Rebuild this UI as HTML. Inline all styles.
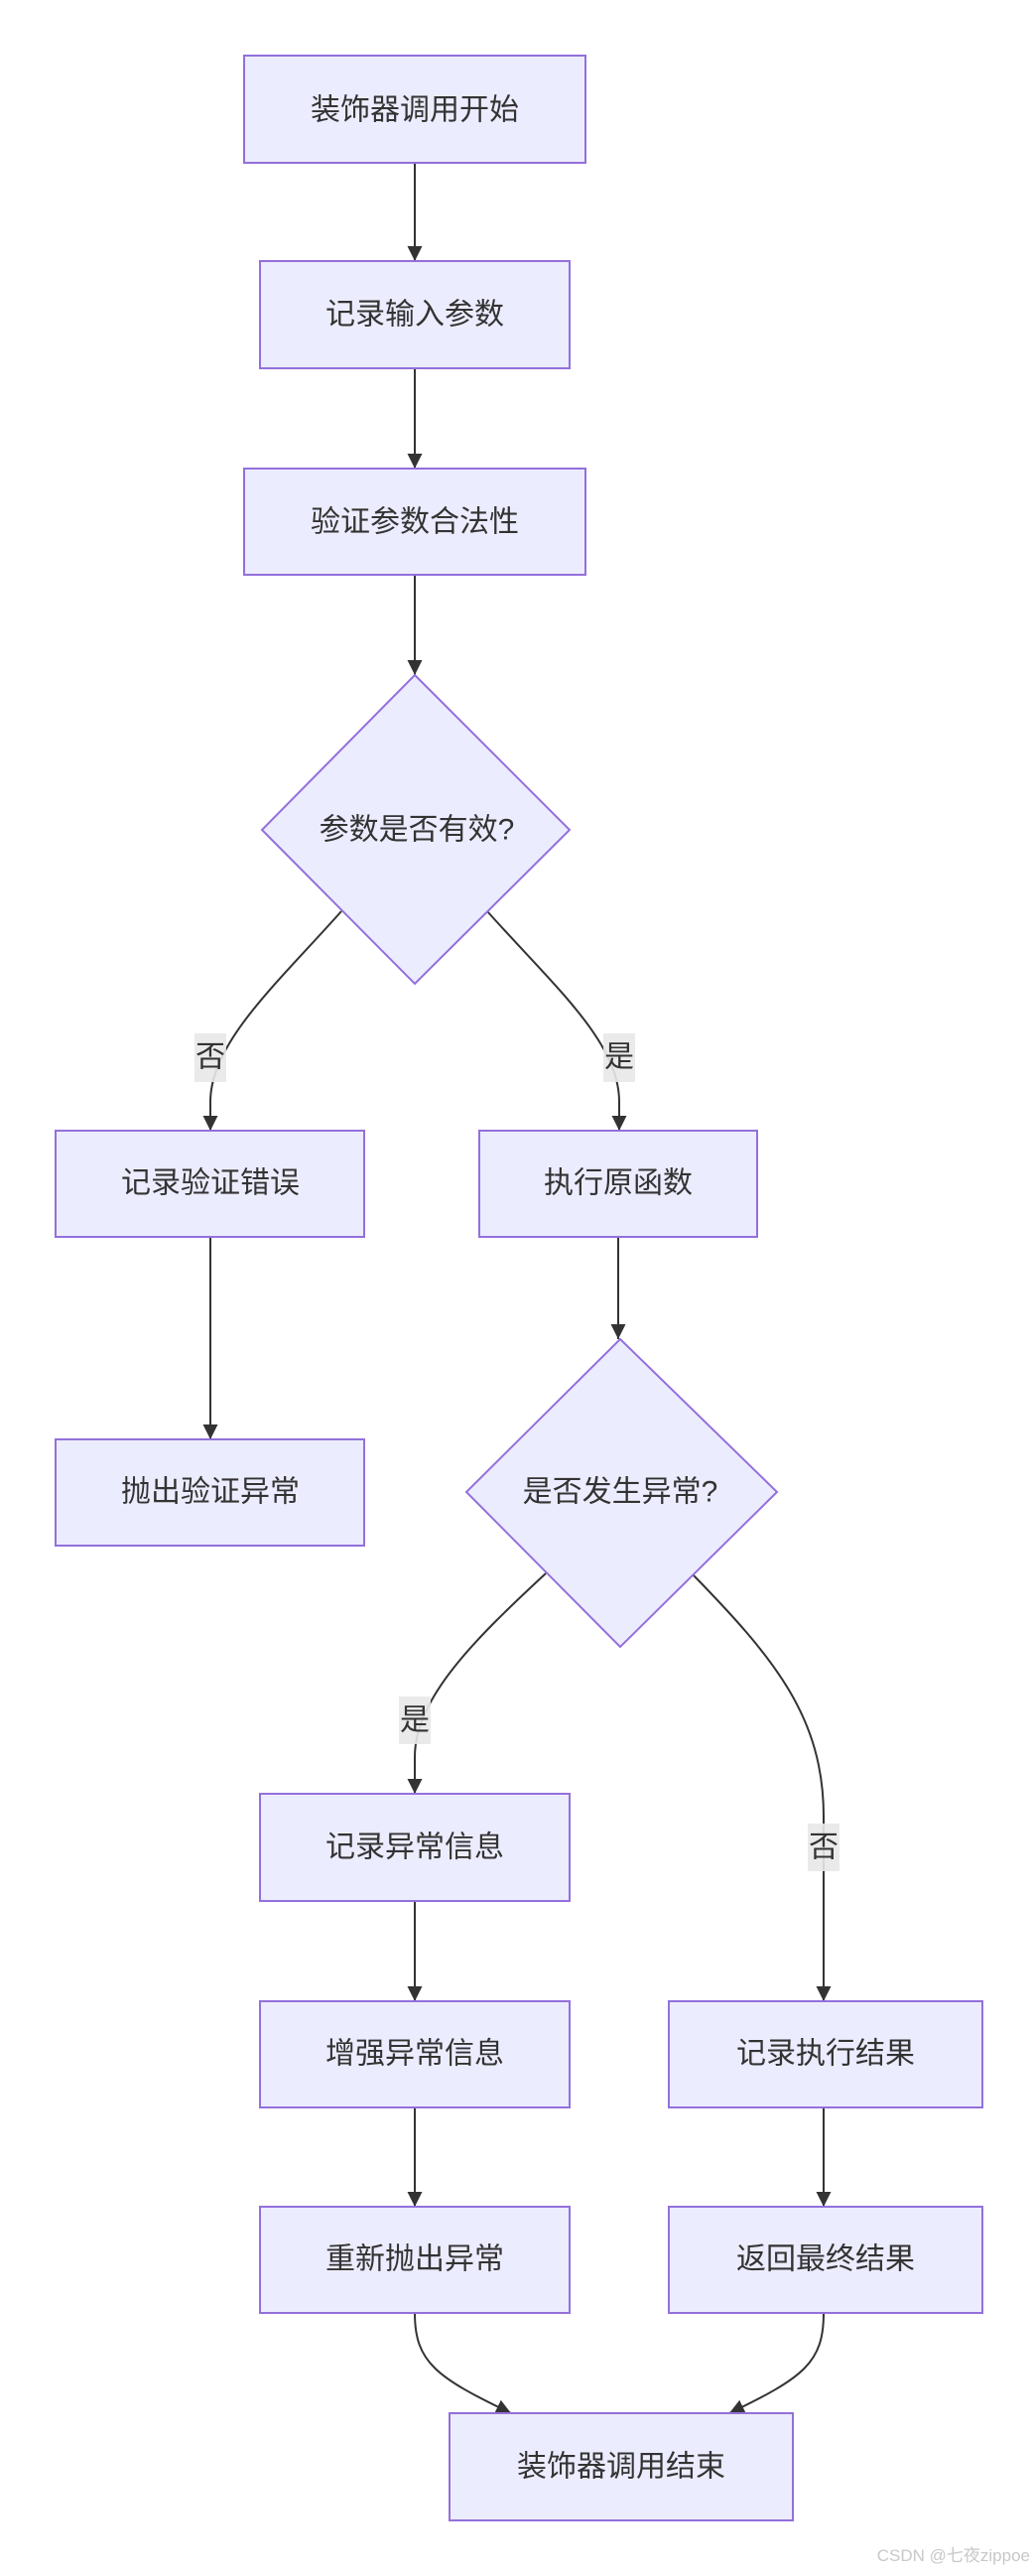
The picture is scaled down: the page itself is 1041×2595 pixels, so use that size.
<!DOCTYPE html>
<html><head><meta charset="utf-8"><style>
html,body{margin:0;padding:0;background:#fff;}
svg{display:block;}
text{font-family:"Liberation Sans","Noto Sans CJK SC",sans-serif;fill:#333;}
</style></head><body>
<svg width="1041" height="2595" viewBox="0 0 1041 2595" xmlns="http://www.w3.org/2000/svg">
<defs>
<marker id="a" viewBox="0 0 10 10" refX="9" refY="5" markerWidth="9" markerHeight="9" markerUnits="userSpaceOnUse" orient="auto">
<path d="M0,0L10,5L0,10z" fill="#333"/></marker>
<marker id="b" viewBox="0 0 10 10" refX="10" refY="5" markerWidth="15" markerHeight="15" markerUnits="userSpaceOnUse" orient="auto">
<path d="M0,0L10,5L0,10z" fill="#333"/></marker>
</defs>
<g fill="none" stroke="#333" stroke-width="2">
<path d="M418,164V263" marker-end="url(#b)"/>
<path d="M418,371V472" marker-end="url(#b)"/>
<path d="M418,579V680" marker-end="url(#b)"/>
<path d="M344,918C280,990 212,1050 212,1110V1139" marker-end="url(#b)"/>
<path d="M491,918C560,995 624,1050 624,1110V1139" marker-end="url(#b)"/>
<path d="M212,1246V1450" marker-end="url(#b)"/>
<path d="M623,1246V1349" marker-end="url(#b)"/>
<path d="M550,1585C480,1650 418,1710 418,1770V1807" marker-end="url(#b)"/>
<path d="M698,1586C780,1670 830,1730 830,1830V2016" marker-end="url(#b)"/>
<path d="M418,1915V2016" marker-end="url(#b)"/>
<path d="M418,2123V2223" marker-end="url(#b)"/>
<path d="M830,2123V2223" marker-end="url(#b)"/>
<path d="M418,2330C418,2380 440,2395 515,2431" marker-end="url(#b)"/>
<path d="M830,2330C830,2380 810,2395 735,2431" marker-end="url(#b)"/>
</g>
<g fill="#ECECFF" stroke="#9370DB" stroke-width="2">
<rect x="246" y="56" width="344" height="108"/>
<rect x="262" y="263" width="312" height="108"/>
<rect x="246" y="472" width="344" height="107"/>
<polygon points="418,680 574,836 418,991 264,836"/>
<rect x="56" y="1139" width="311" height="107"/>
<rect x="483" y="1139" width="280" height="107"/>
<rect x="56" y="1450" width="311" height="107"/>
<polygon points="625,1349 783,1503 625,1659 470,1503"/>
<rect x="262" y="1807" width="312" height="108"/>
<rect x="262" y="2016" width="312" height="107"/>
<rect x="262" y="2223" width="312" height="107"/>
<rect x="674" y="2016" width="316" height="107"/>
<rect x="674" y="2223" width="316" height="107"/>
<rect x="453" y="2431" width="346" height="108"/>
</g>
<g fill="#e8e8e8" opacity="0.9">
<rect x="196" y="1041" width="32" height="49"/>
<rect x="608" y="1041" width="32" height="49"/>
<rect x="402" y="1709" width="32" height="48"/>
<rect x="814" y="1837" width="32" height="48"/>
</g>
<g font-size="30" text-anchor="middle" dominant-baseline="central">
<text x="418" y="111">装饰器调用开始</text>
<text x="418" y="317">记录输入参数</text>
<text x="418" y="526">验证参数合法性</text>
<text x="420" y="836">参数是否有效?</text>
<text x="212" y="1065">否</text>
<text x="624" y="1065">是</text>
<text x="212" y="1192">记录验证错误</text>
<text x="623" y="1192">执行原函数</text>
<text x="212" y="1503">抛出验证异常</text>
<text x="625" y="1503">是否发生异常?</text>
<text x="418" y="1733">是</text>
<text x="830" y="1861">否</text>
<text x="418" y="1861">记录异常信息</text>
<text x="418" y="2069">增强异常信息</text>
<text x="418" y="2276">重新抛出异常</text>
<text x="832" y="2069">记录执行结果</text>
<text x="832" y="2276">返回最终结果</text>
<text x="626" y="2485">装饰器调用结束</text>
</g>
<text x="1038" y="2580" font-size="17" text-anchor="end" fill="#c8c8c8" style="fill:#c8c8c8">CSDN @七夜zippoe</text>
</svg>
</body></html>
